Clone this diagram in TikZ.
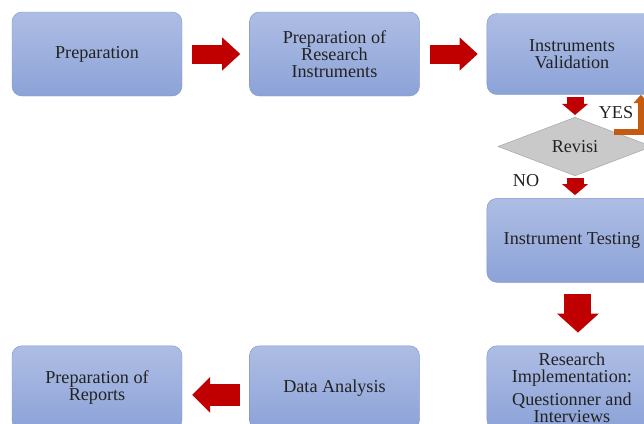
\documentclass[tikz,border=0pt]{standalone}
\usepackage{fontspec}
\setmainfont{Liberation Serif}
\usetikzlibrary{arrows.meta, positioning, shapes.geometric}
\definecolor{flowTop}{HTML}{AEBDE4}
\definecolor{flowBottom}{HTML}{8CA3D8}
\definecolor{flowEdge}{HTML}{8397C6}
\definecolor{flowRed}{HTML}{C00000}
\definecolor{flowGray}{HTML}{C9C9C9}
\definecolor{flowGrayEdge}{HTML}{A3A3A3}
\definecolor{flowOrange}{HTML}{C55A11}
\definecolor{flowText}{HTML}{222222}

\begin{document}
\begin{tikzpicture}[
		node distance=2.01cm,
		every node/.style={font=\fontsize{15.5}{14.5}\selectfont, text=flowText},
		box/.style={rounded corners=3mm, draw=flowEdge, top color=flowTop, bottom color=flowBottom, minimum width=5.1cm, minimum height=2.52cm, align=center, inner sep=2pt},
		decision/.style={diamond, draw=flowGrayEdge, fill=flowGray, minimum width=4.62cm, minimum height=1.71cm, inner sep=0pt},
		lbl/.style={inner sep=1pt},
		flatarrow/.style={draw=flowRed, line width=0.57cm, -{Triangle[length=0.54cm, width=0.99cm, line width=0pt]}},
		downarrow/.style={draw=flowRed, line width=0.51cm, -{Triangle[length=0.33cm, width=0.78cm, line width=0pt]}},
		bigarrow/.style={draw=flowRed, line width=0.81cm, -{Triangle[length=0.57cm, width=1.26cm, line width=0pt]}},
		yesarrow/.style={draw=flowOrange, line width=0.18cm, -{Triangle[length=0.25cm, width=0.45cm, line width=0pt]}}
	]
		\clip (0,0) rectangle (19.32,-12.69);
		\useasboundingbox (0,0) rectangle (19.32,-12.69);

		% top row
		\node[box] (prep) at (2.91,-1.62) {Preparation};
		\node[box, right=of prep] (prepinst) {Preparation of\\Research\\Instruments};
		\node[box, right=of prepinst, minimum height=2.43cm] (valid) {Instruments\\Validation};

		% right column
		\node[decision] (revisi) at (17.25,-4.395) {Revisi};
		\node[box, below=3.1cm of valid] (testing) {Instrument Testing};
		\node[box, below=1.89cm of testing] (implement) {Research\\Implementation:\\[5pt]Questionner and\\Interviews};

		% bottom row
		\node[box, left=of implement] (analysis) {Data Analysis};
		\node[box, left=of analysis] (reports) {Preparation of\\Reports};

		\node[lbl] (yes) at (18.48,-3.39) {YES};
		\node[lbl] (no) at (15.78,-5.43) {NO};

		\draw[flatarrow, shorten <=0.3cm, shorten >=0.27cm] (prep) -- (prepinst);
		\draw[flatarrow, shorten <=0.3cm, shorten >=0.27cm] (prepinst) -- (valid);
		\draw[downarrow, shorten <=0.075cm, shorten >=0.06cm] (valid.south -| revisi.north) -- (revisi.north);
		\draw[yesarrow] (revisi.north east) -| ([xshift=2.07cm]valid.south);
		\draw[downarrow, shorten <=0.06cm, shorten >=0.09cm] (revisi.south) -- (revisi.south |- testing.north);
		\draw[bigarrow, shorten <=0.33cm, shorten >=0.39cm] ([xshift=0.18cm]testing.south) -- ([xshift=0.18cm]implement.north);
		\draw[flatarrow, line width=0.66cm, -{Triangle[length=0.54cm, width=1.08cm, line width=0pt]}, shorten <=0.27cm, shorten >=0.3cm] ([yshift=-0.21cm]analysis.west) -- ([yshift=-0.21cm]reports.east);
	\end{tikzpicture}
\end{document}
